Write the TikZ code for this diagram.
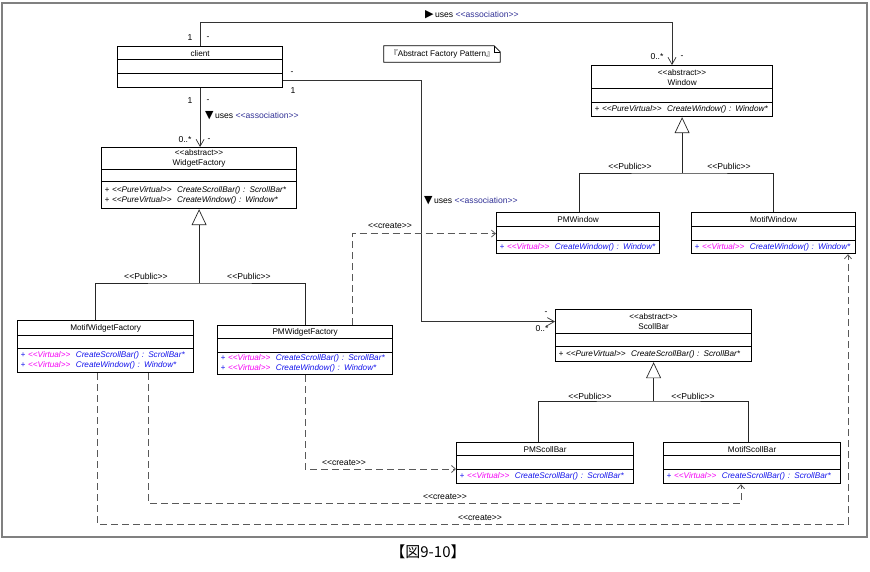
\documentclass[tikz,border=0pt]{standalone}
\usepackage{fontspec}
\setmainfont{Liberation Sans}
\newfontfamily\cjk{Noto Sans CJK JP}
\newfontfamily\sym{DejaVu Sans}
\usetikzlibrary{arrows.meta}

\definecolor{opblue}{RGB}{20,20,235}
\definecolor{opmag}{RGB}{245,0,245}
\definecolor{assocblue}{RGB}{50,50,150}

\newcommand\umlfont{\fontsize{8.2}{10}\selectfont}
\newcommand\lblfont{\fontsize{8.6}{10}\selectfont}
\newcommand\stereo[1]{<\kern0pt<#1>\kern0pt>}
\newcommand\pureop[1]{+~\stereo{PureVirtual}~~#1}
\newcommand\virtop[1]{\textcolor{opblue}{+}~\textcolor{opmag}{\stereo{Virtual}}~~\textcolor{opblue}{#1}}

\begin{document}
\begin{tikzpicture}[x=1pt, y=-1pt,
	cname/.style={
		draw, line width=1.2pt, anchor=north west,
		inner sep=0pt, align=center, font=\umlfont, minimum width=#1
	},
	cattr/.style={draw, line width=1.2pt, anchor=north west, inner sep=0pt, minimum width=#1},
	cops/.style 2 args={
		draw, line width=1.2pt, anchor=north west,
		inner xsep=3pt, inner ysep=0pt, align=left,
		font=\umlfont\itshape, minimum width=#1, text width=#2
	},
	lbl/.style={inner sep=0pt, font=\lblfont},
	assoc/.style={draw=black!80, line width=0.7pt},
	nav/.style={assoc, -{Straight Barb[length=7pt, width=8pt]}},
	inh/.style={draw=black!85, line width=0.7pt},
	gen/.style={inh, -{Triangle[open, fill=white, length=16pt, width=15pt]}},
	create/.style={draw=black!65, line width=0.8pt, dash pattern=on 7pt off 4pt,
		-{Straight Barb[length=4pt, width=7pt]}},
	]
	\useasboundingbox (0,0) rectangle (870,572);
	\draw[black!50, line width=1.5pt] (2,3) rectangle (867,537);

	% classes
	\node[cname=165, minimum height=13] (cl) at (117,46) {client};
	\node[cattr=165, minimum height=14] (cla) at (117,59) {};
	\node[cops={165}{159}, minimum height=14] (clo) at (117,73) {};

	\node[cname=181, minimum height=23] (win) at (591,65) {\stereo{abstract}\\Window};
	\node[cattr=181, minimum height=14] (wina) at (591,88) {};
	\node[cops={181}{175}, minimum height=14] (wino) at (591,102) {\pureop{CreateWindow() : Window*}};

	\node[cname=195, minimum height=22] (wf) at (101,147) {\stereo{abstract}\\WidgetFactory};
	\node[cattr=195, minimum height=12] (wfa) at (101,169) {};
	\node[cops={195}{189}, minimum height=27] (wfo) at (101,181)
		{\pureop{CreateScrollBar() : ScrollBar*}\\\pureop{CreateWindow() : Window*}};

	\node[cname=176, minimum height=15] (mwf) at (17,320) {MotifWidgetFactory};
	\node[cattr=176, minimum height=13] (mwfa) at (17,335) {};
	\node[cops={176}{170}, minimum height=24] (mwfo) at (17,348)
		{\virtop{CreateScrollBar() : ScrollBar*}\\\virtop{CreateWindow() : Window*}};

	\node[cname=175, minimum height=13] (pmwf) at (217,325) {PMWidgetFactory};
	\node[cattr=175, minimum height=14] (pmwfa) at (217,338) {};
	\node[cops={175}{169}, minimum height=22] (pmwfo) at (217,352)
		{\virtop{CreateScrollBar() : ScrollBar*}\\\virtop{CreateWindow() : Window*}};

	\node[cname=163, minimum height=14] (pmw) at (496,212) {PMWindow};
	\node[cattr=163, minimum height=14] (pmwa) at (496,226) {};
	\node[cops={163}{157}, minimum height=13] (pmwo) at (496,240) {\virtop{CreateWindow() : Window*}};

	\node[cname=164, minimum height=14] (mw) at (691,212) {MotifWindow};
	\node[cattr=164, minimum height=14] (mwa) at (691,226) {};
	\node[cops={164}{158}, minimum height=13] (mwo) at (691,240) {\virtop{CreateWindow() : Window*}};

	\node[cname=196, minimum height=24] (sb) at (555,309) {\stereo{abstract}\\ScollBar};
	\node[cattr=196, minimum height=13] (sba) at (555,333) {};
	\node[cops={196}{190}, minimum height=15] (sbo) at (555,346) {\pureop{CreateScrollBar() : ScrollBar*}};

	\node[cname=177, minimum height=13] (pmsb) at (456,442) {PMScollBar};
	\node[cattr=177, minimum height=14] (pmsba) at (456,455) {};
	\node[cops={177}{171}, minimum height=14] (pmsbo) at (456,469) {\virtop{CreateScrollBar() : ScrollBar*}};

	\node[cname=177, minimum height=13] (msb) at (663,442) {MotifScollBar};
	\node[cattr=177, minimum height=14] (msba) at (663,455) {};
	\node[cops={177}{171}, minimum height=14] (msbo) at (663,469) {\virtop{CreateScrollBar() : ScrollBar*}};

	% note
	\node[inner sep=0pt, font=\umlfont, minimum width=116, minimum height=16] (nt) at (442,54)
		{{\cjk 『}Abstract Factory Pattern{\cjk 』}};
	\draw[line width=0.7pt] (nt.south west) -- (nt.north west) -- ([xshift=-6]nt.north east)
		-- ([yshift=-6]nt.north east) -- (nt.south east) -- cycle;
	\draw[line width=0.5pt] ([xshift=-6]nt.north east) -- ++(0,6) -- ([yshift=-6]nt.north east);

	% associations
	\draw[nav] (cl.north) -- ++(0,-24) -| ([xshift=81]win.north west);
	\node[lbl, anchor=west] (u1) at (425,15)
		{{\sym\fontsize{11}{11}\selectfont ▶}\,uses \textcolor{assocblue}{\stereo{association}}};
	\node[lbl] (m1a) at (190,38) {1};
	\node[lbl] (m1b) at (208,38) {-};
	\node[lbl] (m1c) at (657,57) {0..*};
	\node[lbl] (m1d) at (682,57) {-};

	\draw[nav] (clo.south) -- (clo.south |- wf.north);
	\node[lbl, anchor=west] (u2) at (205,116)
		{{\sym\fontsize{11}{11}\selectfont ▼}\,uses \textcolor{assocblue}{\stereo{association}}};
	\node[lbl] (m2a) at (190,101) {1};
	\node[lbl] (m2b) at (208,101) {-};
	\node[lbl] (m2c) at (185,140) {0..*};
	\node[lbl] (m2d) at (209,140) {-};

	\draw[nav] (clo.east) -- ++(138,0) |- (sb.west);
	\node[lbl, anchor=west] (u3) at (424,201)
		{{\sym\fontsize{11}{11}\selectfont ▼}\,uses \textcolor{assocblue}{\stereo{association}}};
	\node[lbl] (m3a) at (292,73) {-};
	\node[lbl] (m3b) at (293,91) {1};
	\node[lbl] (m3c) at (546,313) {-};
	\node[lbl] (m3d) at (542,329) {0..*};

	% generalizations
	\coordinate (wfj) at (wfo.south |- 0,283);
	\draw[gen] (wfj) -- (wfo.south);
	\draw[inh] ([xshift=78]mwf.north west) |- (wfj) -| (pmwf.north);
	\node[lbl] (p1) at (146,276) {\stereo{Public}};
	\node[lbl] (p2) at (249,276) {\stereo{Public}};

	\coordinate (winj) at (wino.south |- 0,173);
	\draw[gen] (winj) -- (wino.south);
	\draw[inh] ([xshift=83]pmw.north west) |- (winj) -| (mw.north);
	\node[lbl] (p3) at (630,166) {\stereo{Public}};
	\node[lbl] (p4) at (729,166) {\stereo{Public}};

	\coordinate (sbj) at (sbo.south |- 0,401);
	\draw[gen] (sbj) -- (sbo.south);
	\draw[inh] ([xshift=82]pmsb.north west) |- (sbj) -| ([xshift=85]msb.north west);
	\node[lbl] (p5) at (590,396) {\stereo{Public}};
	\node[lbl] (p6) at (693,396) {\stereo{Public}};

	% creations
	\draw[create] ([xshift=135]pmwf.north west) |- (pmwa.west);
	\node[lbl] (c1) at (390,226) {\stereo{create}};
	\draw[create] ([xshift=88]pmwfo.south west) |- (pmsbo.north west);
	\node[lbl] (c2) at (344,463) {\stereo{create}};
	\draw[create] ([xshift=131]mwfo.south west) -- ++(0,130) -| ([xshift=78]msbo.south west);
	\node[lbl] (c3) at (445,497) {\stereo{create}};
	\draw[create] ([xshift=80]mwfo.south west) -- ++(0,151) -| ([xshift=157]mwo.south west);
	\node[lbl] (c4) at (480,518) {\stereo{create}};

	% caption
	\node[font=\cjk\fontsize{15}{17}\selectfont, inner sep=0pt] (cap) at (428,552) {【図9-10】};
\end{tikzpicture}
\end{document}
